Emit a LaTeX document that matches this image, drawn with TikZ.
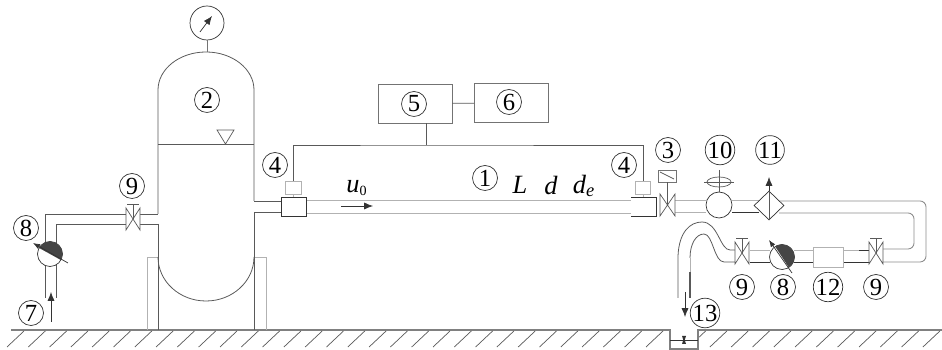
\documentclass[tikz,border=0pt]{standalone}
\usepackage{fontspec}
\setmainfont{Liberation Serif}
\usetikzlibrary{arrows.meta,shapes.geometric}
\definecolor{wallgray}{gray}{0.35}
\definecolor{pipegray}{gray}{0.7}
\definecolor{pumpdark}{gray}{0.27}
\tikzset{
  numlabel/.style={circle,draw=black!80,line width=0.4pt,inner sep=0pt,minimum size=0.5cm,font={\fontsize{14}{14}\selectfont}},
  wall/.style={draw=wallgray,line width=0.45pt},
  pipe/.style={draw=pipegray,line width=0.5pt},
  hardpipe/.style={draw=black!80,line width=0.55pt},
  databox/.style={draw=black!55,line width=0.45pt,minimum width=1.48cm,minimum height=0.78cm,inner sep=0pt},
  sensor/.style={draw=pipegray,line width=0.5pt,fill=white,minimum width=0.31cm,minimum height=0.26cm,inner sep=0pt},
  flowtip/.style={-{Latex[length=5pt,width=4pt]},draw=black!80,line width=0.4pt},
  textlabel/.style={inner sep=0pt,font={\fontsize{15}{15}\selectfont\itshape}}
}
\begin{document}
\begin{tikzpicture}[x=0.02cm,y=-0.02cm]
\useasboundingbox (0,0) rectangle (942,350);
% ground and pit
\draw[draw=black!50,line width=0.7pt] (11,330) -- (670,330) -- (670,349) -- (698,349) -- (698,330) -- (942,330);
\foreach \hx in {24,45.3,...,664}
  \draw[wall,line width=0.4pt] (\hx,331) -- ++(-17,16);
\begin{scope}
\clip (699,331) rectangle (942,350);
\foreach \hx in {705.6,726.9,...,942}
  \draw[wall,line width=0.4pt] (\hx,331) -- ++(-17,16);
\end{scope}
\draw[hardpipe] (670,340) -- (698,340);
\fill[black!80] (682,336) -- (686,336) -- (684.7,340) -- (686,344) -- (682,344) -- (683.3,340) -- cycle;
% supports and tank
\draw[pipe] (147,330) -- (147,257) -- (158,257);
\draw[pipe] (254,257) -- (266,257) -- (266,330);
\draw[wall] (158,214) -- (158,90) arc[start angle=180,end angle=360,x radius=48,y radius=38] -- (254,201);
\draw[wall] (158,224) -- (158,330);
\draw[wall] (254,212) -- (254,330);
\draw[wall] (158,257) arc[start angle=180,end angle=0,x radius=48,y radius=44];
\draw[wall] (158,144) -- (254,144);
\draw[wall,line width=0.4pt] (217,130) -- (234,130) -- (225.5,144) -- cycle;
% gauge
\coordinate (tanktop) at (207,52);
\node[circle,draw=black!80,line width=0.4pt,minimum size=0.68cm,inner sep=0pt] (gauge) at (207,23) {};
\draw[pipe,draw=black!55] (gauge) -- (tanktop);
\draw[flowtip] (200,32) -- (212,16);
% inlet line
\draw[wall] (45,298) -- (45,214) -- (127,214);
\draw[wall] (56,298) -- (56,224) -- (127,224);
\draw[wall] (140,214) -- (158,214);
\draw[wall] (140,224) -- (158,224);
\draw[flowtip] (51,322) -- (51,292);
% test section
\draw[wall] (254,201) -- (281,201);
\draw[wall] (254,212) -- (281,212);
\draw[pipe] (306,200) -- (631,200);
\draw[pipe] (306,213) -- (631,213);
\node[draw=black!80,line width=0.55pt,fill=white,minimum width=0.5cm,minimum height=0.38cm,inner sep=0pt] (flangeL) at (293.5,206.5) {};
\draw[hardpipe,fill=white] (631,197) -- (656,197) -- (656,216) -- (631,216);
\node[sensor] (sensorL) at (293.5,187.5) {};
\node[sensor] (sensorR) at (643,187.5) {};
\coordinate (bus) at (426,145);
\draw[wall] (sensorL.north) |- (bus) -| (sensorR.north);
\draw[pipe] (sensorL.south) -- (flangeL.north);
\draw[pipe] (sensorR.south) -- (643,197);
\node[databox] (box5) at (415,103.5) {};
\node[databox] (box6) at (511.5,103) {};
\draw[wall] (box5) -- (box6);
\draw[wall] (bus |- box5.south) -- (bus);
\draw[flowtip] (341,206) -- (373,206);
% return line
\draw[pipe] (675,200) -- (706,200);
\draw[pipe] (675,212) -- (706,212);
\draw[pipe] (732,200) -- (760,200);
\draw[hardpipe] (732,212.5) -- (759,212.5);
\draw[pipe,draw=black!45] (779,201) -- (920,201) arc[start angle=270,end angle=360,radius=6] -- (926,256) arc[start angle=0,end angle=90,radius=6] -- (883,262);
\draw[pipe,draw=black!45] (779,213) -- (908,213) arc[start angle=270,end angle=360,radius=6] -- (914,243) arc[start angle=0,end angle=90,radius=6] -- (883,249);
\draw[pipe] (750,250) -- (770,250);
\draw[hardpipe] (750,262) -- (770,262);
\draw[pipe] (794,250) -- (813,250);
\draw[hardpipe] (794,262) -- (813,262);
\draw[hardpipe] (843,262) -- (869,262);
\draw[hardpipe] (859,250) -- (869,250);
\draw[pipe] (843,250) -- (859,250);
\node[draw=pipegray,line width=0.5pt,fill=white,minimum width=0.6cm,minimum height=0.4cm,inner sep=0pt] (box12) at (828,257) {};
% outlet bend
\draw[wall] (735,250) -- (730,250) .. controls (720,250) and (718,222) .. (702,222) .. controls (690,222) and (679,232) .. (678,256) -- (678,298);
\draw[wall] (735,262) -- (724,262) .. controls (714,262) and (713,234) .. (704,234) .. controls (696,234) and (690,244) .. (690,258);
\draw[pipegray,line width=0.5pt] (690,258) -- (690,272);
\draw[wall,line width=0.7pt] (690,272) -- (690,298);
\draw[flowtip] (685,292) -- (685,317);
% valves
\foreach \vx/\vy in {133/219,742/253,876/253}{
  \draw[wall,fill=white,line width=0.4pt] (\vx-7,\vy-11) -- (\vx+7,\vy+11) -- (\vx+7,\vy-11) -- (\vx-7,\vy+11) -- cycle;
  \draw[wall,line width=0.4pt] (\vx,\vy) -- (\vx,\vy-15);
  \draw[wall,line width=0.4pt] (\vx-6,\vy-15) -- (\vx+6,\vy-15);
}
\draw[wall,fill=white,line width=0.4pt] (660,194) -- (675,216) -- (675,194) -- (660,216) -- cycle;
\node[draw=black!55,line width=0.4pt,minimum width=0.36cm,minimum height=0.24cm,inner sep=0pt] (actuator) at (667,176) {};
\coordinate (valve3) at (667,205);
\draw[wall,line width=0.4pt] (actuator.south) -- (valve3);
\draw[wall,line width=0.4pt] (660,172) -- (674,179);
% pumps
\node[circle,draw=black!80,line width=0.4pt,fill=white,minimum size=0.5cm,inner sep=0pt] (pumpL) at (50,254) {};
\fill[pumpdark] (50,254) ++(209:12.5) arc[start angle=209,end angle=389,radius=12.5] -- cycle;
\draw[draw=black!80,line width=0.4pt,{Latex[length=4pt,width=3pt]}-] (33,243) -- (68,263);
\node[circle,draw=black!80,line width=0.4pt,fill=white,minimum size=0.5cm,inner sep=0pt] (pumpR) at (782,257) {};
\fill[pumpdark] (782,257) ++(-123:12.5) arc[start angle=-123,end angle=57,radius=12.5] -- cycle;
\draw[draw=black!80,line width=0.4pt,{Latex[length=4pt,width=3pt]}-] (769,240) -- (792,273);
% flow meter and filter
\node[circle,draw=black!80,line width=0.4pt,fill=white,minimum size=0.52cm,inner sep=0pt] (meter) at (719,205) {};
\node[ellipse,draw=black!65,line width=0.4pt,minimum width=0.48cm,minimum height=0.2cm,inner sep=0pt] (meterhead) at (719,182) {};
\draw[wall,line width=0.4pt] (704,182) -- (734,182);
\draw[wall,line width=0.4pt] (719,170) -- (meter.north);
\node[diamond,draw=black!80,line width=0.4pt,fill=white,minimum width=0.6cm,minimum height=0.58cm,inner sep=0pt] (filter) at (769,205.5) {};
\coordinate (filtertop) at (769,177);
\draw[wall,line width=0.4pt] (filter.south) -- (filter.north);
\draw[flowtip] (filter.north) -- (filtertop);
% labels
\node[numlabel] (lab1) at (485,178) {1};
\node[numlabel] (lab2) at (207,100) {2};
\node[numlabel] (lab3) at (668,150) {3};
\node[numlabel] (lab4a) at (275,165) {4};
\node[numlabel] (lab4b) at (624,165) {4};
\node[numlabel] (lab5) at (414,104) {5};
\node[numlabel] (lab6) at (509,102) {6};
\node[numlabel] (lab7) at (31,313) {7};
\node[numlabel] (lab8a) at (26,228) {8};
\node[numlabel] (lab8b) at (783,287) {8};
\node[numlabel] (lab9a) at (132,186) {9};
\node[numlabel] (lab9b) at (742,287) {9};
\node[numlabel] (lab9c) at (876,287) {9};
\node[numlabel] (lab10) at (720,150) {10};
\node[numlabel] (lab11) at (770,150) {11};
\node[numlabel] (lab12) at (828,287) {12};
\node[numlabel] (lab13) at (705,313) {13};
\node[textlabel] (speed) at (357,188) {u\textsubscript{\upshape\fontsize{8}{8}\selectfont 0}};
\node[textlabel] (length) at (520,185) {L};
\node[textlabel] (diam) at (551,185) {d};
\node[textlabel] (hydro) at (584,186) {d\textsubscript{e}};
\end{tikzpicture}
\end{document}
